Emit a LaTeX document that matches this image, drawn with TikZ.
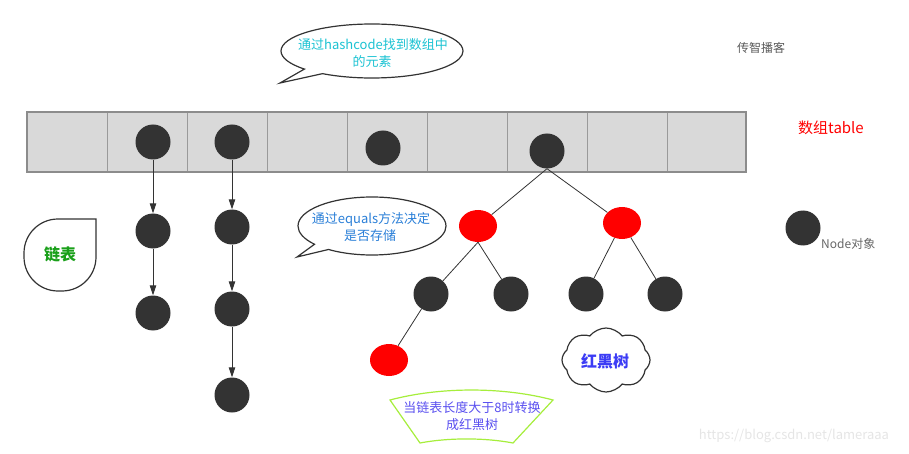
\documentclass[tikz,border=0pt]{standalone}
\usepackage{fontspec}
\setmainfont{Noto Sans CJK SC}
\usetikzlibrary{shapes.callouts,shapes.symbols,shapes.geometric,arrows.meta}
\definecolor{ballc}{HTML}{333333}
\definecolor{linec}{HTML}{333333}
\definecolor{cellc}{HTML}{D9D9D9}
\definecolor{bordc}{HTML}{8C8C8C}
\definecolor{divc}{HTML}{9A9A9A}
\definecolor{cyant}{HTML}{1CC3D3}
\definecolor{bluet}{HTML}{2A7FD8}
\definecolor{greent}{HTML}{1AA01A}
\definecolor{rbt}{HTML}{3C3CF5}
\definecolor{bant}{HTML}{5A50F0}
\definecolor{banl}{HTML}{A6EE3C}
\begin{document}
\begin{tikzpicture}[x=1pt,y=-1pt,
  ball/.style={circle,fill=ballc,minimum size=35pt,inner sep=0pt},
  redball/.style={ellipse,fill=red,minimum width=38pt,minimum height=32pt,inner sep=0pt},
  link/.style={draw=linec,line width=1pt,-{Triangle[length=10pt,width=6.5pt]}},
  treeedge/.style={draw=linec,line width=0.8pt},
  bubble/.style={ellipse callout,draw=black!80,line width=1.2pt,fill=white,inner sep=0pt},
  txt/.style={font=\fontsize{13}{15}\selectfont,inner sep=0pt},
]
\useasboundingbox (0,0) rectangle (909,454);

% array
\draw[fill=cellc,draw=bordc,line width=1.5pt] (27,112) rectangle (746,172);
\foreach \x in {107,187,267,347,427,507,587,667}
  \draw[divc,line width=1pt] (\x,112.8) -- (\x,171.2);

% array entries
\node[ball] (a1) at (153,142) {};
\node[ball] (a2) at (232,142) {};
\node[ball] (a3) at (383,148) {};
\node[ball] (root) at (547,151) {};

% linked list 1
\node[ball] (l11) at (153,231) {};
\node[ball] (l12) at (153,313) {};
\draw[link] (a1) -- (l11);
\draw[link] (l11) -- (l12);

% linked list 2
\node[ball] (l21) at (232,227) {};
\node[ball] (l22) at (232,309) {};
\node[ball] (l23) at (232,395) {};
\draw[link] (a2) -- (l21);
\draw[link] (l21) -- (l22);
\draw[link] (l22) -- (l23);

% red-black tree
\node[redball] (r1) at (478,226) {};
\node[redball] (r2) at (622,223) {};
\node[ball] (c1) at (431,294) {};
\node[ball] (c2) at (511,294) {};
\node[ball] (c3) at (586,294) {};
\node[ball] (c4) at (665,294) {};
\node[redball] (r3) at (389,360) {};
\draw[treeedge] (root.south) -- (r1);
\draw[treeedge] (root.south) -- (r2);
\draw[treeedge] (r1.south) -- (c1);
\draw[treeedge] (r1.south) -- (c2);
\draw[treeedge] (r2) -- (c3);
\draw[treeedge] (r2) -- (c4);
\draw[treeedge] (c1) -- (r3);

% bubble 1
\coordinate (t1) at (280,83);
\node[bubble,minimum width=182pt,minimum height=54pt,callout absolute pointer={(t1)}] (b1) at (372,51) {};
\node[txt,text=cyant] (b1a) at (373,45) {通过hashcode找到数组中};
\node[txt,text=cyant] (b1b) at (372,62) {的元素};

% bubble 2
\coordinate (t2) at (297,257);
\node[bubble,minimum width=148pt,minimum height=58pt,callout absolute pointer={(t2)}] (b2) at (372,226) {};
\node[txt,text=bluet] (b2a) at (371,219) {通过equals方法决定};
\node[txt,text=bluet] (b2b) at (370,236) {是否存储};

% teardrop "链表"
\draw[draw=black!80,line width=1.2pt,fill=white] (96,219) -- (96,257)
  arc[start angle=0,end angle=90,radius=34] -- (58,291)
  arc[start angle=90,end angle=180,radius=34] -- (24,253)
  arc[start angle=180,end angle=270,radius=34] -- cycle;
\node[font=\bfseries\fontsize{16}{18}\selectfont,text=greent,inner sep=0pt] (lb) at (60,254) {链表};

% cloud "红黑树"
\node[cloud,cloud puffs=8,cloud puff arc=105,draw=black!80,line width=1.2pt,fill=white,
  minimum width=88pt,minimum height=64pt,inner sep=0pt] (cl) at (606,360) {};
\node[font=\bfseries\fontsize{16}{18}\selectfont,text=rbt,inner sep=0pt] (clt) at (605,361) {红黑树};

% banner
\draw[draw=banl,line width=1.2pt,fill=white] (390,400) .. controls (440,386.7) and (503,386.7) .. (553,400)
  -- (513,443) .. controls (485,437.6) and (448,437.6) .. (420,443) -- cycle;
\node[txt,text=bant] (bn1) at (472,408) {当链表长度大于8时转换};
\node[txt,text=bant] (bn2) at (472,424.5) {成红黑树};

% labels
\node[font=\fontsize{15}{17}\selectfont,text=red,inner sep=0pt] (tbl) at (831,128) {数组table};
\node[font=\fontsize{12}{14}\selectfont,text=black!65,inner sep=0pt] (wm1) at (761,48) {传智播客};
\node[ball] (leg) at (803,228) {};
\node[font=\fontsize{12}{14}\selectfont,text=black!60,inner sep=0pt,anchor=west] (legt) at (821,244) {Node对象};
\node[font=\fontsize{13}{15}\selectfont,text=black!10,inner sep=0pt] (wm2) at (794,436) {https://blog.csdn.net/lameraaa};
\end{tikzpicture}
\end{document}
